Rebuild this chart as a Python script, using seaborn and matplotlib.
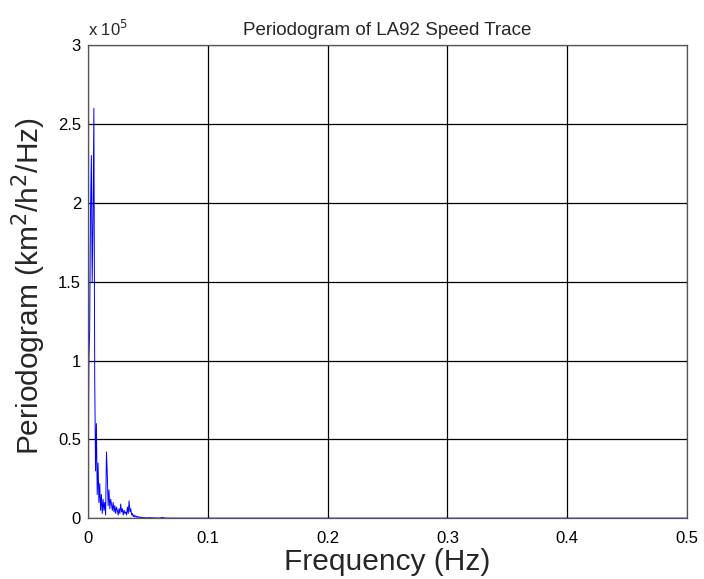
import numpy as np
import pandas as pd
import matplotlib
matplotlib.use("Agg")
import matplotlib.pyplot as plt
import seaborn as sns
from matplotlib.ticker import FuncFormatter

# Frequency (Hz) and periodogram values (km^2/h^2/Hz)
freq = [0.0000, 0.0007, 0.0014, 0.0021, 0.0028, 0.0035, 0.0042, 0.0049, 0.0056, 0.0063,
        0.0070, 0.0077, 0.0084, 0.0091, 0.0098, 0.0105, 0.0112, 0.0119, 0.0126, 0.0133,
        0.0140, 0.0147, 0.0154, 0.0161, 0.0168, 0.0175, 0.0182, 0.0189, 0.0196, 0.0203,
        0.0210, 0.0217, 0.0224, 0.0231, 0.0238, 0.0245, 0.0252, 0.0259, 0.0266, 0.0273,
        0.0280, 0.0287, 0.0294, 0.0301, 0.0308, 0.0315, 0.0322, 0.0329, 0.0336, 0.0343,
        0.0350, 0.0357, 0.0364, 0.0371, 0.0378, 0.0385, 0.0392, 0.0399, 0.0406, 0.0413,
        0.0420, 0.0427, 0.0434, 0.0441, 0.0448, 0.0455, 0.0462, 0.0469, 0.0476, 0.0483,
        0.0490, 0.0497, 0.0504, 0.0511, 0.0518, 0.0525, 0.0532, 0.0539, 0.0546, 0.0553,
        0.0560, 0.0567, 0.0574, 0.0581, 0.0588, 0.0595, 0.0602, 0.0609, 0.0616, 0.0623,
        0.0630, 0.0637, 0.0644, 0.0651, 0.0658, 0.0665, 0.0700, 0.1000, 0.2000, 0.3000,
        0.4000, 0.5000]
power = [2000, 100000, 120000, 195000, 230000, 150000, 190000, 260000, 90000, 30000,
         60000, 15000, 35000, 10000, 22000, 5000, 15000, 3000, 12000, 5000,
         10000, 2000, 42000, 28000, 8000, 18000, 6000, 12000, 9000, 5000,
         10000, 4000, 8000, 3000, 7000, 5000, 2000, 6000, 3000, 9000,
         4000, 6000, 2000, 5000, 3000, 4000, 2000, 7000, 3000, 11000,
         4000, 6000, 2000, 3000, 1000, 2000, 800, 1500, 600, 1200,
         500, 900, 400, 700, 300, 500, 250, 400, 200, 300,
         150, 250, 300, 200, 350, 150, 300, 200, 100, 250,
         150, 100, 80, 120, 60, 100, 150, 250, 400, 500,
         300, 150, 80, 60, 40, 30, 20, 10, 5, 5,
         5, 5]

df = pd.DataFrame({"freq": freq, "power": power})

sns.set_style("white")
plt.rcParams["font.family"] = ["Liberation Sans", "DejaVu Sans"]

fig = plt.figure(figsize=(7.04, 5.79), dpi=100)
ax = fig.add_axes([0.125, 0.105, 0.851, 0.817])

sns.lineplot(data=df, x="freq", y="power", ax=ax, color=(0.0, 0.0, 1.0),
             linewidth=0.7, estimator=None, sort=False)

ax.set_xlim(0, 0.5)
ax.set_ylim(0, 3e5)
ax.set_xticks([0, 0.1, 0.2, 0.3, 0.4, 0.5])
ax.set_yticks([0, 0.5e5, 1e5, 1.5e5, 2e5, 2.5e5, 3e5])
ax.xaxis.set_major_formatter(FuncFormatter(lambda v, p: "%g" % round(v, 3)))
ax.yaxis.set_major_formatter(FuncFormatter(lambda v, p: "%g" % round(v / 1e5, 3)))
ax.grid(True, color="black", linewidth=0.9, linestyle="-")
ax.set_axisbelow(True)
ax.tick_params(direction="in", length=4, width=0.8, labelsize=12, colors="black")
ax.tick_params(axis="x", pad=9)
ax.tick_params(axis="y", pad=5)
for s in ax.spines.values():
    s.set_color("#555555")
    s.set_linewidth(0.9)

ax.set_xlabel("Frequency (Hz)", fontsize=21.5)
ax.set_ylabel("Periodogram (km$^2$/h$^2$/Hz)", fontsize=21.5)
ax.xaxis.set_label_coords(0.5, -0.062)
ax.yaxis.set_label_coords(-0.067, 0.49)
ax.set_title("Periodogram of LA92 Speed Trace", fontsize=13.5, pad=7)
ax.text(0.0, 1.012, "x 10$^5$", transform=ax.transAxes, fontsize=12,
        ha="left", va="bottom")

fig.patch.set_facecolor("white")
fig.savefig("out.png", dpi=100)
